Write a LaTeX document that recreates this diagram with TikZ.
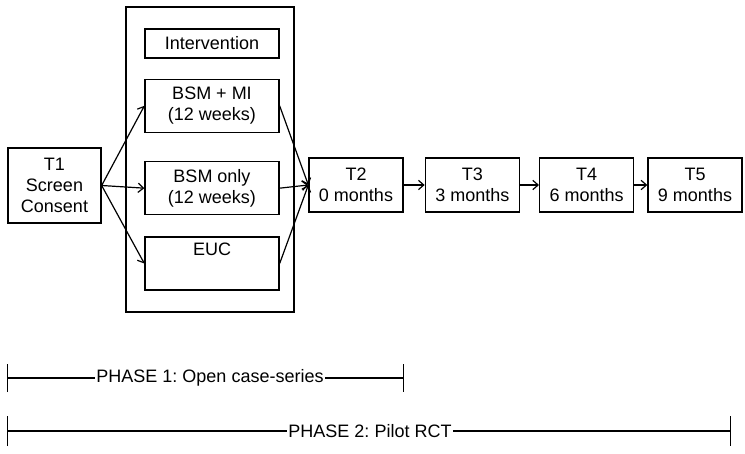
\documentclass[tikz,border=0pt]{standalone}
\usepackage{fontspec}
\setmainfont{Liberation Sans}
\usetikzlibrary{
    arrows.meta,
    positioning
}
\frenchspacing

\begin{document}
\begin{tikzpicture}[
    x=0.75pt, y=-0.75pt,
    every node/.style  = {font=\fontsize{13.5}{16}\selectfont},
    boxnode/.style     = {rectangle, draw, line width=1pt, align=center,
                          minimum width=70.5pt, minimum height=40.5pt,
                          inner sep=1pt},
    armnode/.style     = {boxnode, minimum width=100.5pt,
                          minimum height=39.75pt},
    link/.style        = {-{Straight Barb[length=4pt, width=7pt]},
                          line width=0.9pt},
    span/.style        = {line width=0.8pt},
    phasenode/.style   = {inner sep=1pt},
]
    \useasboundingbox (0,0) rectangle (745,453);

    %Nodes
    \node[draw, line width=1pt, minimum width=126pt, minimum height=228.75pt]
                            (arms)      at (210,159.5) {};
    \node[armnode, minimum height=21.75pt]
                            (intervention) at (212,43.5) {Intervention};
    \node[armnode]          (bsmmi)     [below=15pt of intervention]  {BSM + MI\\(12 weeks)};
    \node[armnode]          (bsmonly)   [below=21pt of bsmmi]         {BSM only\\(12 weeks)};
    \node[armnode]          (euc)       [below=15.75pt of bsmonly]    {EUC\\\strut};

    \node[boxnode, minimum width=69.75pt, minimum height=56.25pt]
                            (t1)        at (54.5,185.5) {T1\\Screen\\Consent};
    \node[boxnode]          (t2)        at (356,185)               {T2\\0 months};
    \node[boxnode]          (t3)        [right=15.75pt of t2]      {T3\\3 months};
    \node[boxnode]          (t4)        [right=14.25pt of t3]      {T4\\6 months};
    \node[boxnode]          (t5)        [right=9.75pt of t4]       {T5\\9 months};

    \coordinate (p1start) at (7,378);
    \coordinate (p1end)   at (404,378);
    \node[phasenode]        (phase1)    at (210,378) {PHASE 1: Open case-series};
    \coordinate (p2start) at (7,431);
    \coordinate (p2end)   at (731,431);
    \node[phasenode]        (phase2)    at (370,431) {PHASE 2: Pilot RCT};

    %Lines
    \foreach \arm in {bsmmi, bsmonly, euc} {
        \draw[link] (t1.east) -- (\arm.west);
        \draw[link] (\arm.east) -- (t2.west);
    }
    \draw[link] (t2.east) -- (t3.west);
    \draw[link] (t3.east) -- (t4.west);
    \draw[link] (t4.east) -- (t5.west);

    \draw[span, {Bar[width=21pt]}-] (p1start) -- (phase1.west);
    \draw[span, -{Bar[width=21pt]}] (phase1.east) -- (p1end);
    \draw[span, {Bar[width=22.5pt]}-] (p2start) -- (phase2.west);
    \draw[span, -{Bar[width=22.5pt]}] (phase2.east) -- (p2end);
\end{tikzpicture}
\end{document}
